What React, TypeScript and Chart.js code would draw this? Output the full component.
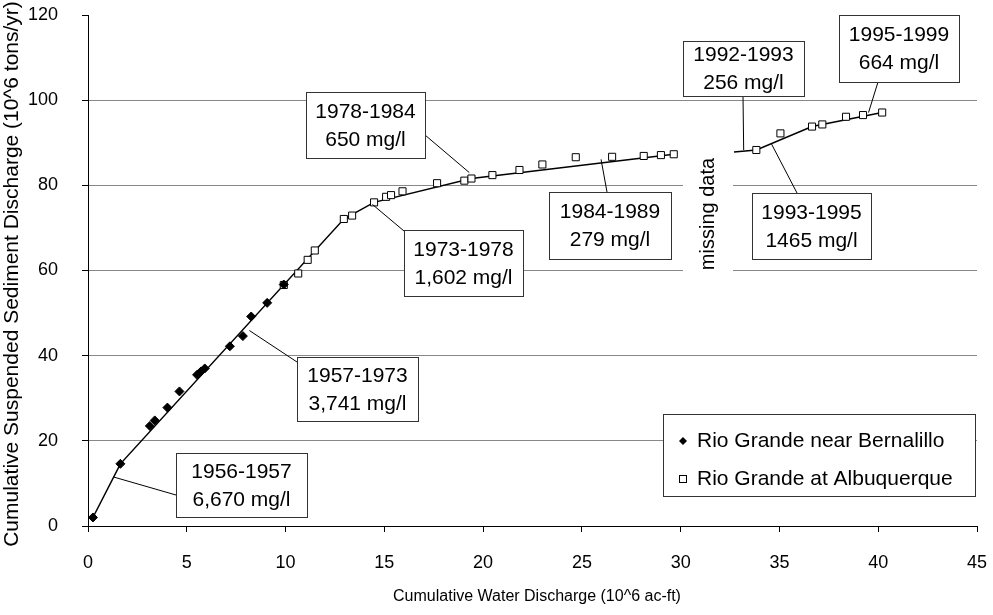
import React, { useEffect, useRef } from 'react';
import { Chart, registerables } from 'chart.js';

Chart.register(...registerables);

// Cumulative water discharge (10^6 ac-ft) and cumulative suspended sediment (10^6 tons)
const bernalilloX = [0.25, 1.64, 3.13, 3.38, 4.02, 4.63, 5.52, 5.72, 5.91, 7.18, 7.84, 8.26, 9.07, 9.91];
const bernalilloY = [2.0, 14.6, 23.5, 24.8, 27.8, 31.6, 35.5, 36.3, 37.0, 42.2, 44.6, 49.2, 52.4, 56.7];

const albuquerqueX = [9.91, 10.64, 11.12, 11.48, 12.95, 13.37, 14.48, 15.09, 15.34, 15.92, 17.67, 19.05, 19.41, 20.47, 21.84, 23.0, 24.69, 26.53, 28.13, 29.0, 29.65, 33.83, 35.05, 36.65, 37.17, 38.37, 39.23, 40.2];
const albuquerqueY = [56.6, 59.3, 62.5, 64.7, 72.1, 72.9, 76.0, 77.3, 77.7, 78.6, 80.5, 81.1, 81.6, 82.4, 83.6, 84.9, 86.6, 86.7, 86.9, 87.1, 87.3, 88.3, 92.2, 93.8, 94.3, 96.1, 96.5, 97.1];

// Break points of the period trend lines (null = gap for the missing years)
const trendX = [0.25, 1.64, 12.95, 14.48, 19.41, 29.65, 31.2, 32.7, 33.83, 36.65, 40.2];
const trendY = [2.0, 14.6, 72.1, 76.0, 81.6, 87.3, null, 87.8, 88.3, 93.8, 97.1];

// Period callouts: label text and the point on the trend each leader touches
const periodLabels = ['1956-1957', '1957-1973', '1973-1978', '1978-1984', '1984-1989', '1992-1993', '1993-1995', '1995-1999'];
const concentrationLabels = ['6,670 mg/l', '3,741 mg/l', '1,602 mg/l', '650 mg/l', '279 mg/l', '256 mg/l', '1465 mg/l', '664 mg/l'];
const leaderX = [1.3, 8.17, 14.4, 19.3, 25.97, 33.19, 34.6, 39.51];
const leaderY = [11.5, 45.9, 75.5, 83.0, 86.1, 88.3, 89.7, 97.1];

const xTicks = [0, 5, 10, 15, 20, 25, 30, 35, 40, 45];
const yTicks = [0, 20, 40, 60, 80, 100, 120];

const seriesNames = ['Rio Grande near Bernalillo', 'Rio Grande at Albuquerque'];
const xTitle = 'Cumulative Water Discharge (10^6 ac-ft)';
const yTitle = 'Cumulative Suspended Sediment Discharge (10^6 tons/yr)';
const gapNote = 'missing data';

// Layout of the callout boxes (canvas pixels) and where each leader leaves its box
const calloutLayout = [
  { l: 176, t: 453, r: 307, b: 517, sx: 176, sy: 495 },
  { l: 297, t: 357, r: 418, b: 421, sx: 297, sy: 362 },
  { l: 404, t: 230, r: 523, b: 296, sx: 404, sy: 231 },
  { l: 306, t: 92, r: 425, b: 158, sx: 425, sy: 135 },
  { l: 549, t: 192, r: 671, b: 259, sx: 607, sy: 192 },
  { l: 683, t: 41, r: 804, b: 96, sx: 743, sy: 96 },
  { l: 752, t: 193, r: 871, b: 259, sx: 797, sy: 193 },
  { l: 839, t: 15, r: 959, b: 82, sx: 878, sy: 82 },
];
const legendLayout = { l: 663, t: 414, r: 975, b: 496, markerX: 683, textX: 697, rowY: [441, 479] };
const gapNoteLayout = { cx: 708, cy: 214, l: 683, t: 140, r: 733, b: 280 };
const axisTitleLayout = { xCx: 537, xCy: 597, xSize: 16, yCx: 12, yCy: 274, ySize: 21 };

const FONT = '"Liberation Sans", Arial, Helvetica, sans-serif';
const GRID = '#888888';

const toPoints = (xs: number[], ys: (number | null)[]) => xs.map((x, i) => ({ x, y: ys[i] }));

const annotationPlugin = {
  id: 'periodCallouts',
  afterDatasetsDraw(chart: any) {
    const { ctx, scales } = chart;
    ctx.save();
    // white panel behind the vertical note that breaks the gridlines
    const g = gapNoteLayout;
    ctx.fillStyle = '#ffffff';
    ctx.fillRect(g.l, g.t, g.r - g.l, g.b - g.t);
    ctx.translate(g.cx, g.cy);
    ctx.rotate(-Math.PI / 2);
    ctx.fillStyle = '#000';
    ctx.font = `20px ${FONT}`;
    ctx.textAlign = 'center';
    ctx.textBaseline = 'middle';
    ctx.fillText(gapNote, 0, 0);
    ctx.restore();

    ctx.save();
    calloutLayout.forEach((box, i) => {
      const px = scales.x.getPixelForValue(leaderX[i]);
      const py = scales.y.getPixelForValue(leaderY[i]);
      ctx.strokeStyle = '#000';
      ctx.lineWidth = 1;
      ctx.beginPath();
      ctx.moveTo(box.sx, box.sy);
      ctx.lineTo(px, py);
      ctx.stroke();

      ctx.fillStyle = '#ffffff';
      ctx.fillRect(box.l, box.t, box.r - box.l, box.b - box.t);
      ctx.strokeStyle = '#333';
      ctx.strokeRect(box.l + 0.5, box.t + 0.5, box.r - box.l, box.b - box.t);

      const cx = (box.l + box.r) / 2;
      const cy = (box.t + box.b) / 2;
      ctx.fillStyle = '#000';
      ctx.font = `21px ${FONT}`;
      ctx.textAlign = 'center';
      ctx.textBaseline = 'middle';
      ctx.fillText(periodLabels[i], cx, cy - 13);
      ctx.fillText(concentrationLabels[i], cx, cy + 15);
    });
    ctx.restore();
  },
  afterDraw(chart: any) {
    const { ctx } = chart;
    const L = legendLayout;
    ctx.save();
    ctx.fillStyle = '#ffffff';
    ctx.fillRect(L.l, L.t, L.r - L.l, L.b - L.t);
    ctx.strokeStyle = '#333';
    ctx.lineWidth = 1;
    ctx.strokeRect(L.l + 0.5, L.t + 0.5, L.r - L.l, L.b - L.t);

    // diamond marker
    const y0 = L.rowY[0];
    ctx.fillStyle = '#000';
    ctx.beginPath();
    ctx.moveTo(L.markerX, y0 - 4);
    ctx.lineTo(L.markerX + 4, y0);
    ctx.lineTo(L.markerX, y0 + 4);
    ctx.lineTo(L.markerX - 4, y0);
    ctx.closePath();
    ctx.fill();

    // hollow square marker
    const y1 = L.rowY[1];
    ctx.fillStyle = '#fff';
    ctx.fillRect(L.markerX - 3.5, y1 - 3.5, 7, 7);
    ctx.strokeStyle = '#000';
    ctx.strokeRect(L.markerX - 3.5, y1 - 3.5, 7, 7);

    ctx.fillStyle = '#000';
    ctx.font = `21px ${FONT}`;
    ctx.textAlign = 'left';
    ctx.textBaseline = 'middle';
    ctx.fillText(seriesNames[0], L.textX, y0);
    ctx.fillText(seriesNames[1], L.textX, y1);

    // axis titles
    const A = axisTitleLayout;
    ctx.textAlign = 'center';
    ctx.font = `${A.xSize}px ${FONT}`;
    ctx.fillText(xTitle, A.xCx, A.xCy);
    ctx.translate(A.yCx, A.yCy);
    ctx.rotate(-Math.PI / 2);
    ctx.font = `${A.ySize}px ${FONT}`;
    ctx.fillText(yTitle, 0, 0);
    ctx.restore();
  },
};

export default function App() {
  const canvasRef = useRef<HTMLCanvasElement>(null);

  useEffect(() => {
    if (!canvasRef.current) return;
    const chart = new Chart(canvasRef.current, {
      type: 'scatter',
      data: {
        datasets: [
          {
            label: seriesNames[0],
            data: toPoints(bernalilloX, bernalilloY),
            pointStyle: 'rectRot',
            pointRadius: 4.5,
            backgroundColor: '#000',
            borderColor: '#000',
            borderWidth: 1,
            showLine: false,
            order: 0,
          },
          {
            label: seriesNames[1],
            data: toPoints(albuquerqueX, albuquerqueY),
            pointStyle: 'rect',
            pointRadius: 5,
            backgroundColor: '#fff',
            borderColor: '#000',
            borderWidth: 1,
            showLine: false,
            order: 1,
          },
          {
            label: 'trend',
            data: toPoints(trendX, trendY),
            showLine: true,
            spanGaps: false,
            pointRadius: 0,
            borderColor: '#000',
            borderWidth: 1.5,
            tension: 0,
            order: 2,
          } as any,
        ],
      },
      options: {
        responsive: false,
        animation: false,
        events: [],
        layout: { padding: { top: 15, right: 16, left: 0, bottom: 0 } },
        plugins: {
          legend: { display: false },
          tooltip: { enabled: false },
        },
        scales: {
          x: {
            type: 'linear',
            min: 0,
            max: 45,
            afterBuildTicks: (s: any) => {
              s.ticks = xTicks.map((v) => ({ value: v }));
            },
            ticks: { color: '#000', font: { family: FONT, size: 18 }, padding: 20 },
            grid: { drawOnChartArea: false, drawTicks: true, tickLength: 6, tickColor: '#000' },
            border: { color: '#000', width: 1 },
            afterFit: (s: any) => {
              s.height = 89;
              s.paddingLeft = 0;
              s.paddingRight = 0;
            },
          },
          y: {
            type: 'linear',
            min: 0,
            max: 120,
            afterBuildTicks: (s: any) => {
              s.ticks = yTicks.map((v) => ({ value: v }));
            },
            ticks: { color: '#000', font: { family: FONT, size: 18 }, padding: 24 },
            grid: {
              color: (c: any) => (c.tick && (c.tick.value === 0 || c.tick.value === 120) ? 'rgba(0,0,0,0)' : GRID),
              tickLength: 6,
              tickColor: '#000',
              lineWidth: 1,
            },
            border: { color: '#000', width: 1 },
            afterFit: (s: any) => {
              s.width = 88;
              s.paddingTop = 0;
              s.paddingBottom = 0;
            },
          },
        },
      },
      plugins: [annotationPlugin],
    } as any);
    return () => chart.destroy();
  }, []);

  return (
    <div style={{ position: 'absolute', left: 0, top: 0, width: 993, height: 615, background: '#fff' }}>
      <canvas ref={canvasRef} width={993} height={615} style={{ display: 'block', width: 993, height: 615 }} />
    </div>
  );
}
